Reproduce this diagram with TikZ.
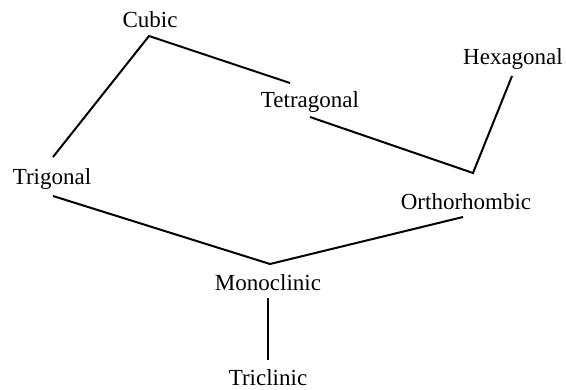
\documentclass[tikz,border=0pt]{standalone}
\usepackage{fontspec}
\setmainfont{Liberation Serif}
\begin{document}
\begin{tikzpicture}[x=1pt,y=-1pt,
  lbl/.style={anchor=base,inner sep=0pt,font=\fontsize{23}{27}\selectfont},
  link/.style={line width=2pt,line join=miter}]
\useasboundingbox[fill=white] (0,0) rectangle (566,389);
\node[lbl] (cubic) at (150,27) {Cubic};
\node[lbl] (tetra) at (310,107) {Tetragonal};
\node[lbl] (hexa) at (513,64) {Hexagonal};
\node[lbl] (trig) at (52,184) {Trigonal};
\node[lbl] (ortho) at (466,209) {Orthorhombic};
\node[lbl] (mono) at (268,290) {Monoclinic};
\node[lbl] (tric) at (268,385) {Triclinic};
\coordinate (trigT) at (53,157);
\coordinate (cubicV) at (149,36);
\coordinate (tetraT) at (290,83);
\coordinate (hexaB) at (512,76);
\coordinate (orthoV) at (473,173);
\coordinate (tetraB) at (310,117);
\coordinate (trigB) at (53,196);
\coordinate (monoV) at (270,264);
\coordinate (orthoB) at (463,217);
\coordinate (monoB) at (268,298);
\coordinate (tricT) at (268,360);
\draw[link] (trigT) -- (cubicV) -- (tetraT);
\draw[link] (hexaB) -- (orthoV) -- (tetraB);
\draw[link] (trigB) -- (monoV) -- (orthoB);
\draw[link] (monoB) -- (tricT);
\end{tikzpicture}
\end{document}
